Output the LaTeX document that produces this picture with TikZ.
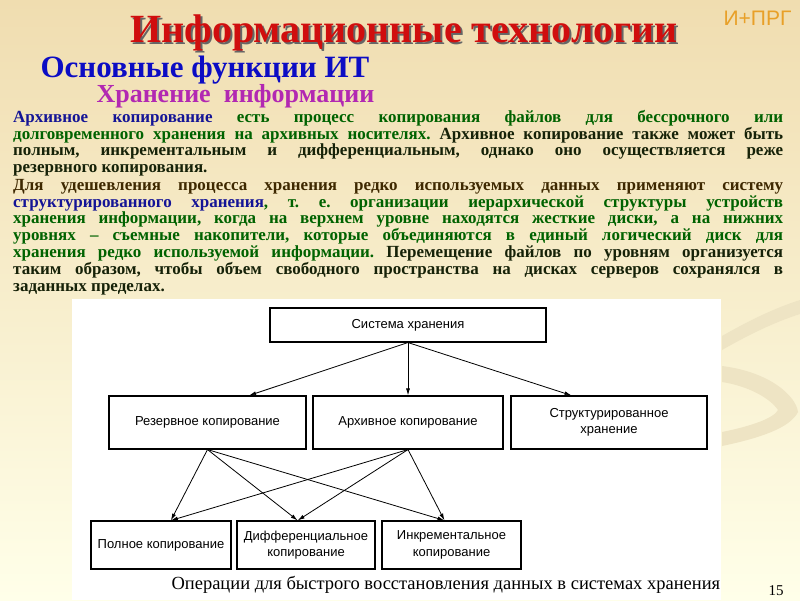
\documentclass[tikz,border=0pt]{standalone}
\usepackage{fontspec}
\setmainfont{Liberation Serif}
\setsansfont{Liberation Sans}
\usetikzlibrary{arrows.meta,calc}
\definecolor{bgtop}{RGB}{240,221,176}
\definecolor{bgbot}{RGB}{255,255,233}
\definecolor{swirl}{RGB}{238,228,196}
\definecolor{titlered}{RGB}{208,14,14}
\definecolor{subblue}{RGB}{12,12,196}
\definecolor{submag}{RGB}{178,40,178}
\definecolor{txtblue}{RGB}{20,20,150}
\definecolor{txtgreen}{RGB}{0,98,0}
\definecolor{txtdark}{RGB}{22,34,8}
\definecolor{txtbrown}{RGB}{62,40,0}
\definecolor{logo}{RGB}{232,160,40}
\newlength{\linew}\setlength{\linew}{770pt}
\newcommand{\jl}[1]{\makebox[\linew][s]{#1}}
\frenchspacing

\begin{document}
\begin{tikzpicture}[x=1pt,y=-1pt,
  box/.style={draw,line width=1.1pt,fill=white,align=center,inner sep=2pt,
    font=\sffamily\fontsize{13}{16.5}\selectfont},
  arr/.style={line width=.8pt,-{Latex[length=7pt,width=4pt]}},
  para/.style={anchor=north west,inner sep=0pt,align=left,
    font=\bfseries\fontsize{17}{16.8}\selectfont}]
\useasboundingbox (0,0) rectangle (800,600);
\shade[top color=bgtop,bottom color=bgbot] (0,0) rectangle (800,600);
\fill[white] (72,299) rectangle (721,600);
\fill[swirl] (722,336) .. controls (750,320) and (775,308) .. (800,300) -- (800,314) .. controls (775,322) and (750,334) .. (722,350) -- cycle;
\fill[swirl] (722,366) .. controls (770,372) and (796,396) .. (798,412) .. controls (790,428) and (760,438) .. (722,446) -- (722,432) .. controls (752,426) and (774,418) .. (778,410) .. controls (770,398) and (748,386) .. (722,382) -- cycle;

\node[font=\bfseries\fontsize{40}{40}\selectfont,text=black!60] (titleshadow) at (406,35) {Информационные технологии};
\node[font=\bfseries\fontsize{40}{40}\selectfont,text=titlered] (title) at (404,33) {Информационные технологии};
\node[anchor=west,font=\sffamily\fontsize{21}{21}\selectfont,text=logo] (logo) at (720,18) {И+ПРГ};
\node[anchor=west,font=\bfseries\fontsize{31}{31}\selectfont,text=subblue] (sub) at (37,70) {Основные функции ИТ};
\node[anchor=west,font=\bfseries\fontsize{26}{26}\selectfont,text=submag] (topic) at (93,96) {Хранение\ \ информации};

\node[para] (par1) at (13,110) {%
\jl{\color{txtblue}Архивное копирование \color{txtgreen}есть процесс копирования файлов для бессрочного или}\\
\jl{\color{txtgreen}долговременного хранения на архивных носителях. \color{txtdark}Архивное копирование также может быть}\\
\jl{\color{txtdark}полным, инкрементальным и дифференциальным, однако оно осуществляется реже}\\
\color{txtdark}резервного копирования.};
\node[para] (par2) at (13,179) {%
\jl{\color{txtbrown}Для удешевления процесса хранения редко используемых данных применяют систему}\\
\jl{\color{txtblue}структурированного хранения\color{txtgreen}, т. е. организации иерархической структуры устройств}\\
\jl{\color{txtgreen}хранения информации, когда на верхнем уровне находятся жесткие диски, а на нижних}\\
\jl{\color{txtgreen}уровнях – съемные накопители, которые объединяются в единый логический диск для}\\
\jl{\color{txtgreen}хранения редко используемой информации. \color{txtdark}Перемещение файлов по уровням организуется}\\
\jl{\color{txtdark}таким образом, чтобы объем свободного пространства на дисках серверов сохранялся в}\\
\color{txtdark}заданных пределах.};

\node[box,minimum width=276,minimum height=34] (sys) at (408,325) {Система хранения};
\node[box,minimum width=197,minimum height=53] (rez) at (207.5,422.5) {Резервное копирование};
\node[box,minimum width=190,minimum height=53] (arh) at (408,422.5) {Архивное копирование};
\node[box,minimum width=196,minimum height=53] (str) at (609,422.5) {Структурированное\\хранение};
\node[box,minimum width=140,minimum height=48] (full) at (161,545) {Полное копирование};
\node[box,minimum width=138,minimum height=48] (diff) at (306,545) {Дифференциальное\\копирование};
\node[box,minimum width=139,minimum height=48] (incr) at (451.5,545) {Инкрементальное\\копирование};

\coordinate (rezin) at ($(rez.north west)!.71!(rez.north east)$);
\coordinate (strin) at ($(str.north west)!.31!(str.north east)$);
\coordinate (fullin) at ($(full.north west)!.57!(full.north east)$);
\coordinate (diffin) at ($(diff.north west)!.44!(diff.north east)$);
\coordinate (incrin) at ($(incr.north west)!.45!(incr.north east)$);
\draw[arr] (sys.south) -- (rezin);
\draw[arr] (sys.south) -- (arh.north);
\draw[arr] (sys.south) -- (strin);
\foreach \s in {rez,arh}
 \foreach \t in {fullin,diffin,incrin}
  \draw[arr] (\s.south) -- (\t);

\node[anchor=west,font=\fontsize{18.5}{18.5}\selectfont] (caption) at (168,585) {Операции для быстрого восстановления данных в системах хранения};
\node[font=\fontsize{15}{15}\selectfont] (pagenum) at (776,591) {15};
\end{tikzpicture}
\end{document}
